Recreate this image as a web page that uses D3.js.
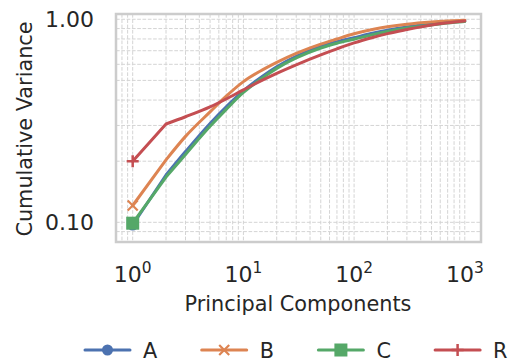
<!DOCTYPE html>
<html><head><meta charset="utf-8">
<script src="https://cdn.jsdelivr.net/npm/d3@7/dist/d3.min.js"></script>
<style>
html,body{margin:0;padding:0;background:#fff;}
svg{display:block;font-family:"DejaVu Sans",sans-serif;}
</style></head>
<body><svg id="c" width="523" height="362"></svg>
<script>
const components = [1,2,3,5,7,10,15,20,30,50,70,100,150,200,300,500,700,1000];
const seriesNames = ["A","B","C","R"];
const valuesA = [0.097,0.171,0.223,0.307,0.371,0.444,0.526,0.584,0.657,0.735,0.775,0.812,0.856,0.884,0.917,0.947,0.966,0.98];
const valuesB = [0.121,0.203,0.265,0.35,0.418,0.493,0.565,0.614,0.68,0.755,0.80,0.848,0.893,0.918,0.946,0.97,0.981,0.99];
const valuesC = [0.099,0.167,0.216,0.297,0.36,0.436,0.516,0.573,0.645,0.722,0.762,0.798,0.842,0.871,0.905,0.938,0.958,0.975];
const valuesR = [0.2,0.305,0.331,0.37,0.405,0.449,0.503,0.542,0.597,0.668,0.715,0.765,0.816,0.85,0.89,0.937,0.961,0.981];
const xTickValues = [1,10,100,1000];
const xTickExponents = ["0","1","2","3"];
const yTickValues = [0.1,1.0];
const yTickLabels = ["0.10","1.00"];
const colors = ["#4c72b0","#dd8452","#55a868","#c44e52"];
const markers = ["circle","x","square","plus"];

const svg = d3.select("#c");
const L=116, R=481, T=14, B=242;
const x = d3.scaleLog().domain([Math.pow(10,-0.1508), Math.pow(10,3.1464)]).range([L,R]);
const y = d3.scaleLog().domain([Math.pow(10,-1.097), Math.pow(10,0.026)]).range([B,T]);

// grid (major + minor), dashed
const g = svg.append("g");
const xGrid = [];
[0.1,1,10,100,1000].forEach(d=>{for(let k=1;k<10;k++){const v=d*k; if(x(v)>L+1 && x(v)<R-1) xGrid.push(v);}});
const yGrid = [];
[0.01,0.1,1].forEach(d=>{for(let k=1;k<10;k++){const v=d*k; if(y(v)>T+1 && y(v)<B-1) yGrid.push(v);}});
g.selectAll("line.vx").data(xGrid).join("line")
  .attr("x1",d=>x(d)).attr("x2",d=>x(d)).attr("y1",T).attr("y2",B)
  .attr("stroke","#d4d4d4").attr("stroke-width",1).attr("stroke-dasharray","3.7,1.6");
g.selectAll("line.hy").data(yGrid).join("line")
  .attr("y1",d=>y(d)).attr("y2",d=>y(d)).attr("x1",L).attr("x2",R)
  .attr("stroke","#d4d4d4").attr("stroke-width",1).attr("stroke-dasharray","3.7,1.6");

// frame
svg.append("rect").attr("x",L).attr("y",T).attr("width",R-L).attr("height",B-T)
  .attr("fill","none").attr("stroke","#cccccc").attr("stroke-width",2.5);

function drawMarker(sel, type, cx, cy, color){
  if(type==="circle") sel.append("circle").attr("cx",cx).attr("cy",cy).attr("r",5.5).attr("fill",color);
  else if(type==="square") sel.append("rect").attr("x",cx-6.5).attr("y",cy-6.5).attr("width",13).attr("height",13).attr("fill",color);
  else if(type==="x") sel.append("path").attr("d",`M${cx-5},${cy-5}L${cx+5},${cy+5}M${cx-5},${cy+5}L${cx+5},${cy-5}`).attr("stroke",color).attr("stroke-width",2.2).attr("fill","none");
  else if(type==="plus") sel.append("path").attr("d",`M${cx-6},${cy}L${cx+6},${cy}M${cx},${cy-6}L${cx},${cy+6}`).attr("stroke",color).attr("stroke-width",2.5).attr("fill","none");
}

const allValues = [valuesA, valuesB, valuesC, valuesR];
const lineStraight = d3.line().x(d=>x(d[0])).y(d=>y(d[1]));
const lineSmooth = d3.line().x(d=>x(d[0])).y(d=>y(d[1])).curve(d3.curveMonotoneX);
allValues.forEach((vals,i)=>{
  const pts = components.map((c,j)=>[c,vals[j]]);
  const gg = svg.append("g");
  const d = lineStraight(pts.slice(0,2)) + lineSmooth(pts.slice(1)).replace(/^M/,"L");
  gg.append("path").attr("d",d).attr("fill","none").attr("stroke",colors[i])
    .attr("stroke-width",3).attr("stroke-linejoin","round").attr("stroke-linecap","round");
  drawMarker(gg, markers[i], x(pts[0][0]), y(pts[0][1]), colors[i]);
});

// ticks
const tc="#262626";
xTickValues.forEach((v,i)=>{
  const t = svg.append("text").attr("x",x(v)).attr("y",282).attr("text-anchor","middle")
    .attr("font-size",22).attr("fill",tc);
  t.append("tspan").text("10");
  t.append("tspan").attr("dy",-9.5).attr("font-size",15.4).text(xTickExponents[i]);
});
yTickValues.forEach((v,i)=>{
  svg.append("text").attr("x",94).attr("y",y(v)+7.5).attr("text-anchor","end")
    .attr("font-size",22).attr("fill",tc).text(yTickLabels[i]);
});

// axis labels
svg.append("text").attr("x",298).attr("y",311).attr("text-anchor","middle")
  .attr("font-size",20.8).attr("fill",tc).text("Principal Components");
svg.append("text").attr("transform","translate(32,129) rotate(-90)").attr("text-anchor","middle")
  .attr("font-size",20.8).attr("fill",tc).text("Cumulative Variance");

// legend
seriesNames.forEach((n,i)=>{
  const x0 = 85 + i*116.7, ly = 350;
  const lg = svg.append("g");
  lg.append("line").attr("x1",x0).attr("x2",x0+45).attr("y1",ly).attr("y2",ly)
    .attr("stroke",colors[i]).attr("stroke-width",3).attr("stroke-linecap","round");
  drawMarker(lg, markers[i], x0+22.5, ly, colors[i]);
  lg.append("text").attr("x",x0+58).attr("y",357.5).attr("font-size",20.8).attr("fill",tc).text(n);
});
</script></body></html>
